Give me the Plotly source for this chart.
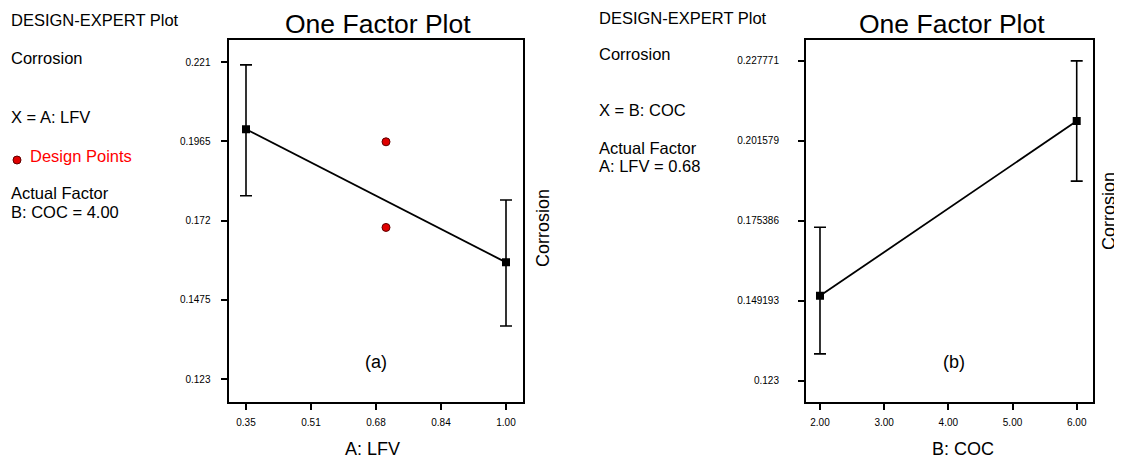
import plotly.graph_objects as go

W, H = 1122, 461
OFF = 8  # the page body margin offsets the figure by 8 px
FW, FH = W - OFF, H - OFF
FONT = "Liberation Sans"

# ---------------- data ----------------
# Panel (a): A: LFV
a_x = [0.35, 1.00]
a_y = [0.2003, 0.1591]
a_err_hi = [0.2202, 0.1784]
a_err_lo = [0.1797, 0.1394]
a_design_x = [0.70, 0.70]
a_design_y = [0.1964, 0.1699]
a_xticks = [0.35, 0.5125, 0.675, 0.8375, 1.00]
a_xticktext = ["0.35", "0.51", "0.68", "0.84", "1.00"]
a_yticks = [0.123, 0.1475, 0.172, 0.1965, 0.221]
a_yticktext = ["0.123", "0.1475", "0.172", "0.1965", "0.221"]

# Panel (b): B: COC
b_x = [2.00, 6.00]
b_y = [0.1508, 0.2081]
b_err_hi = [0.1733, 0.2278]
b_err_lo = [0.1318, 0.1884]
b_xticks = [2, 3, 4, 5, 6]
b_xticktext = ["2.00", "3.00", "4.00", "5.00", "6.00"]
b_yticks = [0.123, 0.149193, 0.175386, 0.201579, 0.227771]
b_yticktext = ["0.123", "0.149193", "0.175386", "0.201579", "0.227771"]


def px(x):
    return (x - OFF) / FW


def py(y):
    return 1 - (y - OFF) / FH


fig = go.Figure()

# Panel (a)
fig.add_trace(go.Scatter(
    x=a_x, y=a_y, mode="lines+markers", xaxis="x", yaxis="y",
    line=dict(color="black", width=1.8),
    marker=dict(symbol="square", size=8, color="black"),
    error_y=dict(type="data", symmetric=False,
                 array=[h - m for h, m in zip(a_err_hi, a_y)],
                 arrayminus=[m - l for l, m in zip(a_err_lo, a_y)],
                 color="black", thickness=1.6, width=6),
    showlegend=False, hoverinfo="x+y"))
fig.add_trace(go.Scatter(
    x=a_design_x, y=a_design_y, mode="markers", xaxis="x", yaxis="y",
    marker=dict(symbol="circle", size=8, color="#e00000",
                line=dict(color="#600000", width=1)),
    showlegend=False, name="Design Points"))

# Panel (b)
fig.add_trace(go.Scatter(
    x=b_x, y=b_y, mode="lines+markers", xaxis="x2", yaxis="y2",
    line=dict(color="black", width=1.8),
    marker=dict(symbol="square", size=8, color="black"),
    error_y=dict(type="data", symmetric=False,
                 array=[h - m for h, m in zip(b_err_hi, b_y)],
                 arrayminus=[m - l for l, m in zip(b_err_lo, b_y)],
                 color="black", thickness=1.6, width=6),
    showlegend=False, hoverinfo="x+y"))

axis_common = dict(showgrid=False, zeroline=False, showline=True,
                   linecolor="black", linewidth=2, mirror=True,
                   ticks="outside", ticklen=6, tickcolor="black", tickwidth=1.5,
                   tickfont=dict(family=FONT, size=10, color="black"))

fig.update_layout(
    width=FW, height=FH,
    margin=dict(l=0, r=0, t=0, b=0),
    paper_bgcolor="white", plot_bgcolor="white",
    xaxis=dict(domain=[px(228.5), px(522.5)], range=[0.30625, 1.04125],
               tickvals=a_xticks, ticktext=a_xticktext, anchor="y",
               ticklabelstandoff=4, **axis_common),
    yaxis=dict(domain=[py(401.5), py(40)], range=[0.11604, 0.2279],
               tickvals=a_yticks, ticktext=a_yticktext, anchor="x",
               ticklabelstandoff=8, **axis_common),
    xaxis2=dict(domain=[px(806), px(1092.5)], range=[1.782, 6.246],
                tickvals=b_xticks, ticktext=b_xticktext, anchor="y2",
                ticklabelstandoff=4, **axis_common),
    yaxis2=dict(domain=[py(401.5), py(40)], range=[0.11618, 0.23465],
                tickvals=b_yticks, ticktext=b_yticktext, anchor="x2",
                ticklabelstandoff=17, **axis_common),
)

anns = []


def add_text(text, x, y, size, color="black", xanchor="left", angle=0):
    anns.append(dict(text=text, x=px(x), y=py(y), xref="paper", yref="paper",
                     xanchor=xanchor, yanchor="middle", showarrow=False,
                     textangle=angle,
                     font=dict(family=FONT, size=size, color=color)))


INFO = 16.5
# Left info text (a)
add_text("DESIGN-EXPERT Plot", 9, 20, INFO)
add_text("Corrosion", 9, 58, INFO)
add_text("X = A: LFV", 9, 117, INFO)
add_text("Design Points", 28, 156, INFO, color="#ff0000")
add_text("Actual Factor", 9, 193, INFO)
add_text("B: COC = 4.00", 9, 212, INFO)

# Left info text (b)
add_text("DESIGN-EXPERT Plot", 597, 18, INFO)
add_text("Corrosion", 597, 54, INFO)
add_text("X = B: COC", 597, 110, INFO)
add_text("Actual Factor", 597, 148, INFO)
add_text("A: LFV = 0.68", 597, 166, INFO)

# Titles
add_text("One Factor Plot", 377.5, 24, 26.5, xanchor="center")
add_text("One Factor Plot", 952, 24, 26.5, xanchor="center")

# Axis titles
add_text("A: LFV", 372, 449, 18, xanchor="center")
add_text("B: COC", 963, 449, 18, xanchor="center")
add_text("Corrosion", 543, 228, 18, xanchor="center", angle=-90)
add_text("Corrosion", 1109, 211, 18, xanchor="center", angle=-90)

# Panel labels
add_text("(a)", 376, 362, 18, xanchor="center")
add_text("(b)", 954, 362, 18, xanchor="center")

fig.update_layout(annotations=anns)

# Red legend glyph for "Design Points"
fig.add_shape(type="circle", xref="paper", yref="paper",
              x0=px(13), x1=px(21), y0=py(164), y1=py(156),
              fillcolor="#e00000", line=dict(color="#600000", width=1))

fig.write_html("out.html")
